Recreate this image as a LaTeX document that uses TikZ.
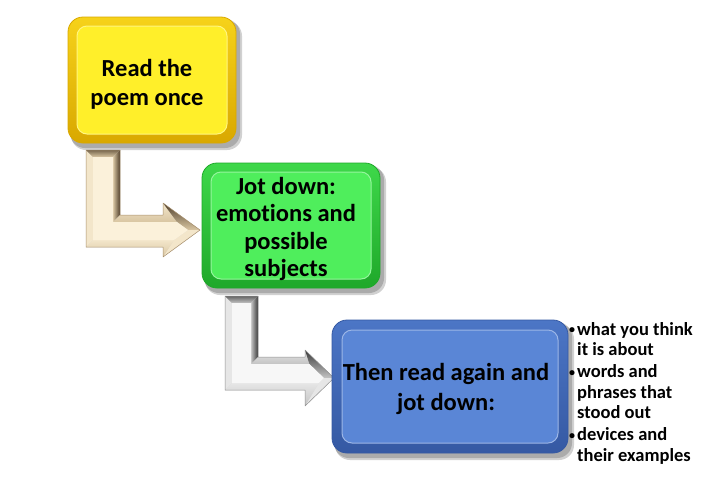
\documentclass[tikz,border=0pt]{standalone}
\usepackage{fontspec}
\setmainfont[Ligatures=NoCommon]{Carlito}
\definecolor{yface}{HTML}{FFEF2A}
\definecolor{yedge}{HTML}{D9A800}
\definecolor{yedgel}{HTML}{F6D21A}
\definecolor{gface}{HTML}{4FEE5C}
\definecolor{gedge}{HTML}{1FA82A}
\definecolor{gedgel}{HTML}{3ED84A}
\definecolor{bface}{HTML}{5A86D6}
\definecolor{bedge}{HTML}{3559A3}
\definecolor{bedgel}{HTML}{4C76C6}
% beige arrow tones
\definecolor{aface}{HTML}{FBF1DA}
\definecolor{alight}{HTML}{F3E6CA}
\definecolor{amid}{HTML}{D9C6A2}
\definecolor{adark}{HTML}{4E3E2A}
\definecolor{aline}{HTML}{A8906E}
% gray arrow tones
\definecolor{gface2}{HTML}{F7F7F7}
\definecolor{glight}{HTML}{E6E6E6}
\definecolor{gmid}{HTML}{C4C4C4}
\definecolor{gdark}{HTML}{3A3A3A}
\definecolor{gline}{HTML}{909090}
\tikzset{
  softshadow/.style={fill=black, opacity=0.18, rounded corners=15pt},
  face/.style={rounded corners=10pt, inner sep=0pt},
  label/.style={font=\bfseries\fontsize{24.5}{29}\selectfont, align=center, text=black},
  bullets/.style={font=\bfseries\fontsize{18.5}{20.5}\selectfont, align=left, text=black, anchor=north west, inner sep=0pt},
}
\newcommand\mydot{\makebox[9pt][l]{\hspace*{1pt}\raisebox{1.5pt}{\fontsize{12}{12}\selectfont •}}}
\newcommand\mybevelbox[9]{%
  \fill[softshadow] (#1+3,#2+4) rectangle (#3+6,#4+7);
  \fill[softshadow] (#1+2,#2+2) rectangle (#3+4,#4+5);
  \shade[rounded corners=15pt, top color=#5, bottom color=#6, draw=#6, line width=0.8pt] (#1,#2) rectangle (#3,#4);
  \node[face, fill=#7, draw=white!40!#7, line width=1pt,
        minimum width={(#3)-(#1)-2*#9}, minimum height={(#4)-(#2)-2*#9}]
        (#8) at ({(#1+#3)/2},{(#2+#4)/2}) {};
}
% beveled L-arrow; uses coordinates A..I (outer) and a,b,c,d,f,h,i (inner)
\newcommand\mybevelarrow[5]{%
  \fill[black, opacity=0.16, shift={(3,4)}] (A) -- (B) -- (C) -- (D) -- (E) -- (F) -- (G) -- (H) -- (I) -- cycle;
  \fill[#2] (I) -- (A) -- (a) -- (i) -- cycle;
  \shade[top color=#4!70!#3, bottom color=#3] (A) -- (B) -- (b) -- (a) -- cycle;
  \shade[left color=#3, right color=#4] (B) -- (C) -- (c) -- (b) -- cycle;
  \shade[top color=#2, bottom color=#3] (C) -- (D) -- (E) -- (d) -- (c) -- cycle;
  \shade[top color=#4, bottom color=#3] (E) -- (F) -- (f) -- (d) -- cycle;
  \fill[#2] (F) -- (G) -- (h) -- (f) -- cycle;
  \shade[top color=#2, bottom color=#3] (G) -- (H) -- (I) -- (i) -- (h) -- cycle;
  \fill[#1] (a) -- (b) -- (c) -- (d) -- (f) -- (h) -- (i) -- cycle;
  \draw[#5, line width=0.5pt, line join=round] (A) -- (B) -- (C) -- (D) -- (E) -- (F) -- (G) -- (H) -- (I) -- cycle;
}
\begin{document}
\begin{tikzpicture}[x=1pt,y=-1pt]
\useasboundingbox[fill=white] (0,0) rectangle (703,488);

% ---------- arrow 1 (beige) ----------
\begin{scope}
\coordinate (A) at (86,150); \coordinate (B) at (120,150); \coordinate (C) at (120,215);
\coordinate (D) at (163,215); \coordinate (E) at (163,203); \coordinate (F) at (200,230);
\coordinate (G) at (163,257); \coordinate (H) at (163,247); \coordinate (I) at (86,247);
\coordinate (a) at (93,157); \coordinate (b) at (113,157); \coordinate (c) at (113,222);
\coordinate (d) at (177,222); \coordinate (f) at (188,230); \coordinate (h) at (174,240);
\coordinate (i) at (93,240);
\mybevelarrow{aface}{alight}{amid}{adark}{aline}
\end{scope}

% ---------- arrow 2 (gray) ----------
\begin{scope}
\coordinate (A) at (225,296); \coordinate (B) at (258,296); \coordinate (C) at (258,357);
\coordinate (D) at (305,357); \coordinate (E) at (305,350); \coordinate (F) at (334,378);
\coordinate (G) at (305,406); \coordinate (H) at (305,390); \coordinate (I) at (225,390);
\coordinate (a) at (232,303); \coordinate (b) at (251,303); \coordinate (c) at (251,364);
\coordinate (d) at (309.4,364); \coordinate (f) at (323.9,378); \coordinate (h) at (318.8,383);
\coordinate (i) at (232,383);
\mybevelarrow{gface2}{glight}{gmid}{gdark}{gline}
\end{scope}

% ---------- boxes ----------
\mybevelbox{68}{17}{236}{143}{yedgel}{yedge}{yface}{readbox}{9}
\mybevelbox{202}{163}{380}{288}{gedgel}{gedge}{gface}{jotbox}{9}
\mybevelbox{332}{320}{568}{453}{bedgel}{bedge}{bface}{againbox}{10}

\node[label] (readtxt) at (147,84) {Read the\\poem once};
\node[label, font=\bfseries\fontsize{24.5}{27.5}\selectfont] (jottxt) at (286,229) {Jot down:\\emotions and\\possible\\subjects};
\node[label, font=\bfseries\fontsize{24.5}{30}\selectfont] (againtxt) at (446,389) {Then read again and\\jot down:};

\node[bullets] (list) at (568,322) {%
\mydot what you think\\
\hspace*{9pt}it is about\\[1.5pt]
\mydot words and\\
\hspace*{9pt}phrases that\\
\hspace*{9pt}stood out\\[1.5pt]
\mydot devices and\\
\hspace*{9pt}their examples};
\end{tikzpicture}
\end{document}
